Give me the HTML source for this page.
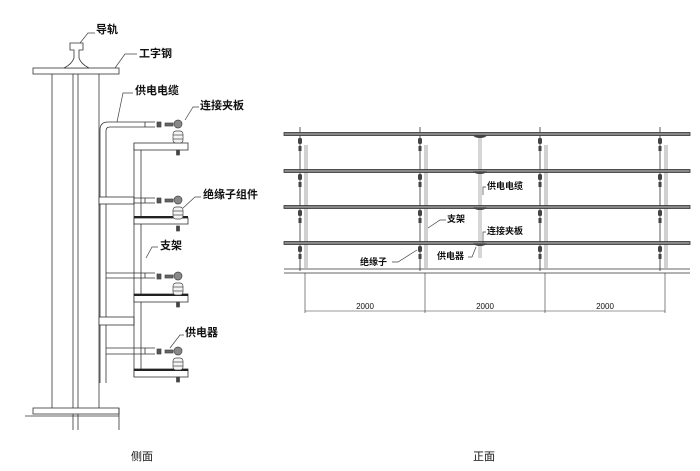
<!DOCTYPE html>
<html><head><meta charset="utf-8"><style>
html,body{margin:0;padding:0;background:#fff;width:700px;height:471px;overflow:hidden}
text{font-family:"Liberation Sans","Noto Sans CJK SC",sans-serif;fill:#111}
</style></head><body>
<svg width="700" height="471" viewBox="0 0 700 471" xmlns="http://www.w3.org/2000/svg">
<g stroke="#333" stroke-width="0.8" fill="none">
<rect x="33" y="68" width="86" height="6" fill="#fff"/>
<line x1="52" y1="74" x2="52" y2="408"/><line x1="73" y1="74" x2="73" y2="408"/>
<line x1="78" y1="74" x2="78" y2="408"/><line x1="99" y1="74" x2="99" y2="408"/>
<path d="M70 43h13v7h-4v8q2 6 10 10h-25q8-4 10-10v-8h-4z" fill="#fff"/>
<rect x="33" y="408" width="86" height="6" fill="#fff"/>
<line x1="25" y1="416" x2="119" y2="416"/>
<line x1="73" y1="414" x2="73" y2="430"/><line x1="78" y1="414" x2="78" y2="430"/>
<line x1="119" y1="408" x2="119" y2="430"/>
<path d="M100 383V130q0-8 8-8h47M106 383V131q0-4 4-4h45"/>
<path d="M106 198h49M106 203h49M106 273h49M106 278h49M106 348h49M106 354h49"/>
<line x1="145" y1="122" x2="145" y2="127"/><line x1="145" y1="198" x2="145" y2="203"/><line x1="145" y1="273" x2="145" y2="278"/><line x1="145" y1="348" x2="145" y2="354"/>
<rect x="99" y="197" width="35" height="7" fill="#fff"/>
<rect x="99" y="317" width="35" height="8" fill="#fff"/>
<line x1="134" y1="143" x2="134" y2="377"/><line x1="141" y1="150" x2="141" y2="369"/>
<rect x="134" y="143" width="54" height="7" fill="#fff"/>
<rect x="134" y="218" width="54" height="6" fill="#fff"/>
<rect x="134" y="294" width="54" height="8" fill="#fff"/>
<rect x="134" y="369" width="54" height="8" fill="#fff"/>
</g>
<g fill="#222">
<rect x="134" y="216" width="54" height="2"/><rect x="134" y="294" width="54" height="2"/><rect x="134" y="369" width="54" height="2"/>
</g>
<g id="ins" stroke="#444" stroke-width="0.7">
<rect x="157" y="122" width="4" height="5" fill="#555"/>
<circle cx="178" cy="124" r="4" fill="#888"/>
<rect x="165" y="123" width="8" height="3" fill="#666"/>
<rect x="173" y="131" width="10" height="12" rx="3" fill="#f4f4f4"/>
<line x1="173" y1="135" x2="183" y2="135"/><line x1="173" y1="139" x2="183" y2="139"/>
<rect x="176.5" y="150" width="3" height="5" fill="#444"/>
</g>
<use href="#ins" y="76"/><use href="#ins" y="152"/><use href="#ins" y="227"/>
<g stroke="#444" stroke-width="0.7" fill="none">
<path d="M80 43L88 33h7"/><path d="M115 68L125 54h12"/><path d="M117 122L123 93h10"/>
<path d="M185 120L193 107h6"/><path d="M183 208L195 197h6"/><path d="M146 258L152 247h6"/><path d="M170 348L180 335h4"/>
</g>
<g font-size="11" font-weight="bold">
<text x="96" y="33">导轨</text><text x="139" y="57">工字钢</text><text x="135" y="94">供电电缆</text>
<text x="200" y="109">连接夹板</text><text x="203" y="198">绝缘子组件</text><text x="160" y="249">支架</text><text x="185" y="336">供电器</text>
</g>
<g font-size="11"><text x="131" y="460">侧面</text><text x="473" y="460">正面</text></g>
<g stroke="#333" stroke-width="0.8" fill="none">
<line x1="284" y1="269" x2="690" y2="269"/><line x1="284" y1="273" x2="690" y2="273"/>
<path d="M300 127V271M420 127V271M540 127V271M660 127V271"/>
<path d="M305 145V268M425 145V268M545 145V268M665 145V268" stroke="#666" stroke-width="0.6"/>
<path d="M307 145V268M427 145V268M547 145V268M667 145V268" stroke="#666" stroke-width="0.6"/>
<path d="M305 273V313M425 273V313M545 273V313M665 273V313" stroke-width="0.6"/>
<line x1="305" y1="311" x2="665" y2="311" stroke-width="0.6"/>
<line x1="479" y1="134" x2="479" y2="258" stroke="#777" stroke-width="0.6"/><line x1="481" y1="134" x2="481" y2="258" stroke="#777" stroke-width="0.6"/>
</g>
<g stroke="#333" stroke-width="0.8" fill="#888">
<rect x="284" y="132.5" width="406" height="3"/><rect x="284" y="169.5" width="406" height="3"/>
<rect x="284" y="205.5" width="406" height="3"/><rect x="284" y="241.5" width="406" height="3"/>
</g>
<g id="fi" fill="#444">
<rect x="298" y="138" width="4" height="6" rx="1.5"/><rect x="298.5" y="146" width="3" height="5"/>
<rect x="418" y="138" width="4" height="6" rx="1.5"/><rect x="418.5" y="146" width="3" height="5"/>
<rect x="538" y="138" width="4" height="6" rx="1.5"/><rect x="538.5" y="146" width="3" height="5"/>
<rect x="658" y="138" width="4" height="6" rx="1.5"/><rect x="658.5" y="146" width="3" height="5"/>
<path d="M473 135.5h14q-2 2.5-7 2.5t-7-2.5z"/>
</g>
<use href="#fi" y="36"/><use href="#fi" y="72"/><use href="#fi" y="108"/>
<g stroke="#444" stroke-width="0.7" fill="none">
<path d="M483 195V187h3"/><path d="M428 228L440 220h6"/><path d="M483 243V232h3"/>
<path d="M476 247L472 257h-4"/><path d="M392 262h6L417 250"/>
</g>
<g font-size="9" font-weight="bold">
<text x="487" y="189">供电电缆</text><text x="447" y="222">支架</text><text x="487" y="234">连接夹板</text>
<text x="437" y="259">供电器</text><text x="360" y="265">绝缘子</text>
</g>
<g font-size="8">
<text x="365" y="309" text-anchor="middle">2000</text><text x="485" y="309" text-anchor="middle">2000</text><text x="605" y="309" text-anchor="middle">2000</text>
</g>
</svg>
</body></html>
